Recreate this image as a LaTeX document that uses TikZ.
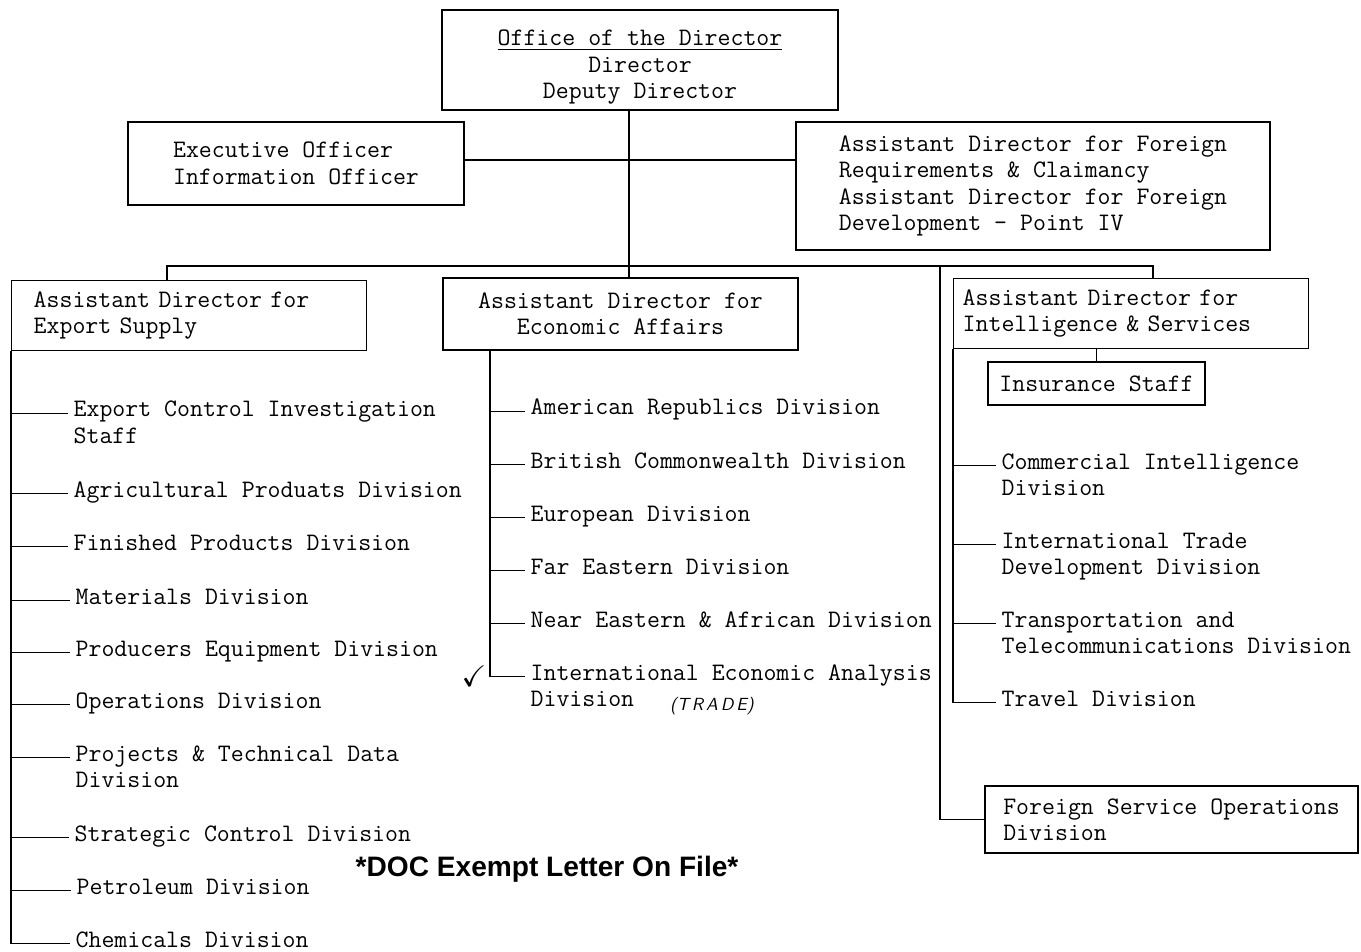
\documentclass[tikz,border=0pt]{standalone}
\usepackage{fontspec}
\usepackage{amssymb}
\newfontfamily\notefont{Liberation Sans}
\newcommand{\typed}{\fontsize{14.3pt}{15pt}\selectfont\ttfamily}
\newcommand{\twolines}[2]{\vtop{\hbox{#1}\hbox{#2}}}

\begin{document}
\begin{tikzpicture}[x=0.02cm, y=-0.02cm, line width=0.8pt,
    box/.style={draw, font=\typed, align=left, inner sep=0pt},
    item/.style={font=\typed, anchor=base west, inner xsep=2.8pt, inner ysep=1pt}]
    \useasboundingbox (0,0) rectangle (1361,952);

    % Draw the boxes
    \node[box, align=center, minimum width=7.92cm, minimum height=2cm] (office) at (640,60) {\rule{0pt}{17pt}\underline{Office of the Director}\\Director\\Deputy Director};
    \node[box, minimum width=6.72cm, minimum height=1.66cm] (exec) at (296,163.5) {Executive Officer\\Information Officer};
    \node[box, minimum width=9.48cm, minimum height=2.56cm] (foreign) at (1033,186) {Assistant Director for Foreign\\Requirements \& Claimancy\\Assistant Director for Foreign\\Development - Point IV};
    \node[box, anchor=north west, inner xsep=0.44cm, text width=6.22cm, minimum height=1.4cm] (export) at (11,280) {Assistant Director for\\Export Supply};
    \node[box, align=center, minimum width=7.1cm, minimum height=1.44cm] (econ) at (620.5,314) {Assistant Director for\\Economic Affairs};
    \node[box, anchor=north west, inner xsep=0.18cm, text width=6.74cm, minimum height=1.4cm] (intel) at (953,278) {Assistant Director for\\Intelligence \& Services};
    \node[box, minimum width=4.34cm, minimum height=0.86cm] (ins) at (1096.5,383.5) {Insurance Staff};
    \node[box, minimum width=7.46cm, minimum height=1.34cm] (fso) at (1171.5,819.5) {Foreign Service Operations\\Division};

    % Export supply divisions
    \node[item] (ecis) at (68,417) {\twolines{Export Control Investigation}{Staff}};
    \node[item] (agri) at (68,497) {Agricultural Produats Division};
    \node[item] (fin) at (68,550) {Finished Products Division};
    \node[item] (mat) at (70,604) {Materials Division};
    \node[item] (prod) at (70,656) {Producers Equipment Division};
    \node[item] (oper) at (70,708) {Operations Division};
    \node[item] (proj) at (70,761) {\twolines{Projects \& Technical Data}{Division}};
    \node[item] (strat) at (69,841) {Strategic Control Division};
    \node[item] (petro) at (71,894) {Petroleum Division};
    \node[item] (chem) at (70,947) {Chemicals Division};

    % Economic affairs divisions
    \node[item] (amer) at (525,415) {American Republics Division};
    \node[item] (brit) at (525,468) {British Commonwealth Division};
    \node[item] (euro) at (525,521) {European Division};
    \node[item] (far) at (525,574) {Far Eastern Division};
    \node[item] (near) at (525,627) {Near Eastern \& African Division};
    \node[item] (ieca) at (525,680) {\twolines{International Economic Analysis}{Division}};

    % Intelligence and services divisions
    \node[item] (comm) at (996,469) {\twolines{Commercial Intelligence}{Division}};
    \node[item] (itd) at (996,548) {\twolines{International Trade}{Development Division}};
    \node[item] (trans) at (996,627) {\twolines{Transportation and}{Telecommunications Division}};
    \node[item] (travel) at (996,706) {Travel Division};

    % Notes
    \node[font=\fontsize{17pt}{18pt}\selectfont] (tick) at (474,676) {$\checkmark$};
    \node[font=\sffamily\itshape\fontsize{10pt}{12pt}\selectfont] (trade) at (712,706) {(T\,R\,A\,D\,E)};
    \node[font=\notefont\bfseries\fontsize{16pt}{18pt}\selectfont, anchor=base west, inner sep=0pt] (doc) at (355,876) {*DOC Exempt Letter On File*};

    % Draw the trunk and the bus
    \coordinate (stem) at (629,266);
    \coordinate (midlink) at (629,160);
    \coordinate (busL) at (167,266);
    \coordinate (busR) at (1153,266);
    \coordinate (fsorail) at (940,266);
    \coordinate (econrail) at (490,350);
    \draw (office.south -| stem) -- (econ.north -| stem);
    \draw (exec.east |- midlink) -- (foreign.west |- midlink);
    \draw (export.north -| busL) -- (busL) -- (busR) -- (intel.north -| busR);
    \draw (fsorail) -- (fsorail |- fso.west) -- (fso.west);
    \draw (intel.south -| ins.north) -- (ins.north);

    % Draw the branches
    \draw (export.south west) -- (export.south west |- chem.mid west) -- (chem.mid west);
    \foreach \n in {ecis,agri,fin,mat,prod,oper,proj,strat,petro}
        \draw (export.south west |- \n.mid west) -- (\n.mid west);
    \draw (econrail) -- (econrail |- ieca.mid west) -- (ieca.mid west);
    \foreach \n in {amer,brit,euro,far,near}
        \draw (econrail |- \n.mid west) -- (\n.mid west);
    \draw (intel.south west) -- (intel.south west |- travel.mid west) -- (travel.mid west);
    \foreach \n in {comm,itd,trans}
        \draw (intel.south west |- \n.mid west) -- (\n.mid west);
\end{tikzpicture}
\end{document}
